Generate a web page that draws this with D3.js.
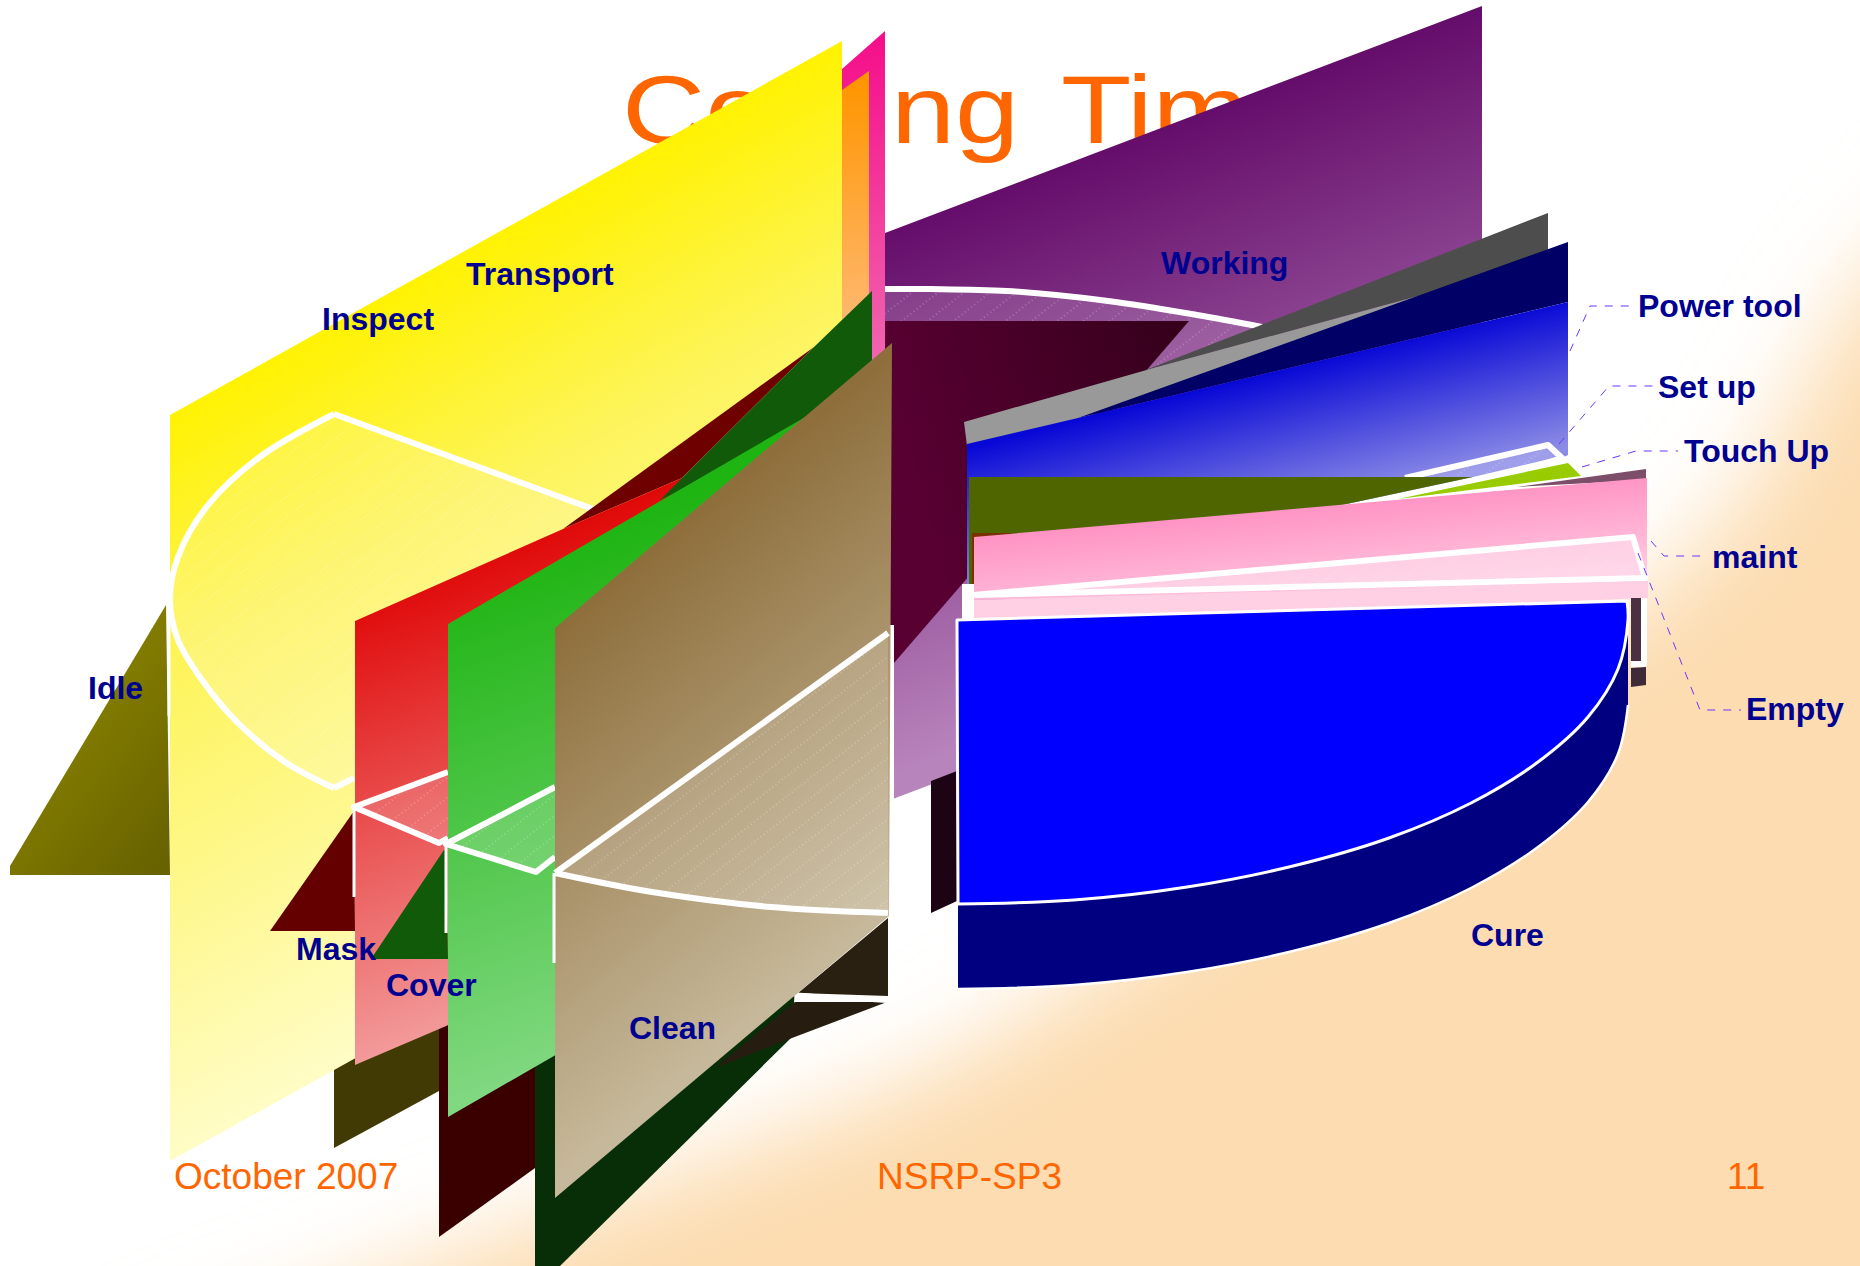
<!DOCTYPE html>
<html>
<head>
<meta charset="utf-8">
<title>Coating Time</title>
<script src="https://cdn.jsdelivr.net/npm/d3@7"></script>
<style>
html, body { margin: 0; padding: 0; background: #fff; }
svg { display: block; }
text { font-family: "Liberation Sans", Arial, sans-serif; }
</style>
</head>
<body>
<svg id="chart"></svg>
<script>
var sliceNames = ["Working", "Transport", "Inspect", "Idle", "Mask", "Cover", "Clean", "Cure", "Empty", "maint", "Touch Up", "Set up", "Power tool"];
var labelX = [1161, 466, 322, 88, 296, 386, 629, 1471, 1746, 1712, 1684, 1658, 1638];
var labelY = [274, 285, 330, 699, 960, 996, 1039, 946, 720, 568, 462, 398, 317];

var footerTexts = ["October 2007", "NSRP-SP3", "11"];
var footerX = [174, 877, 1727];

var peachEdge = [[2100, 120], [1900, 250], [1840, 323], [1720, 525], [1400, 760], [1070, 985], [930, 1070], [420, 1266], [100, 1400], [-200, 1600], [2100, 1600]];

var transportBack = [[885, 31], [842, 69], [842, 400], [885, 400]];
var transportFront = [[869, 71], [842, 90], [842, 340], [869, 340]];
var workingWall = [[885, 233], [1482, 6], [1482, 575], [885, 802]];
var workingTop = [[885, 289], [930, 289], [1007, 291], [1108, 301], [1197, 315], [1262, 326], [1146, 400], [885, 400]];
var workingRim = [[885, 289], [930, 289], [1007, 291], [1108, 301], [1197, 315], [1262, 327]];
var workingInner = [[885, 321], [1189, 321], [894, 663], [885, 672]];
var workingBase = [[931, 781], [957, 771], [957, 901], [931, 913]];

var cleanBase = [[535, 1040], [800, 900], [792, 1037], [560, 1266], [535, 1266]];
var coverBase = [[439, 1020], [535, 950], [535, 1168], [439, 1237]];
var inspectBase = [[334, 1060], [439, 1000], [439, 1091], [334, 1148]];
var idleWedge = [[166, 605], [10, 866], [10, 875], [170, 875]];
var inspectWall = [[170, 415], [842, 41], [842, 788], [170, 1161]];
var inspectArc = [[334, 414], [261, 456], [208, 505], [178, 557], [170, 600], [178, 640], [202, 680], [237, 722], [285, 762], [334, 788]];
var inspectNotch = [[354, 778]];
var inspectTopEdge = [[334, 414], [593, 509]];
var inspectClose = [[600, 640], [600, 511]];
var inspectEdge = [[169, 597], [169, 716]];

var maskUpper = [[563, 529], [814, 347], [682, 478]];
var maskWedge = [[354, 811], [270, 931], [355, 931]];
var maskWall = [[355, 621], [563, 529], [682, 478], [682, 925], [355, 1065]];
var maskTop = [[354, 807], [448, 772], [448, 838], [439, 843]];
var maskEdge = [[354, 807], [354, 897]];

var coverUpper = [[872, 291], [814, 347], [682, 478], [660, 500], [807, 430], [872, 400]];
var coverWedge = [[446, 847], [371, 959], [448, 959]];
var coverWall = [[448, 624], [807, 416], [807, 910], [448, 1117]];
var coverTop = [[446, 844], [555, 787], [555, 857], [536, 872]];
var coverEdge = [[446, 844], [446, 933]];

var cleanLower = [[888, 918], [798, 993], [888, 996]];
var cleanFoot = [[715, 1068], [795, 1002], [887, 1002], [792, 1038]];
var cleanFootRim = [[792, 994], [840, 998], [887, 1001]];
var cleanWall = [[555, 628], [892, 343], [889, 916], [555, 1198]];
var cleanTop = [[888, 633], [555, 873]];
var cleanCurve = [[555, 873], [652, 892], [771, 907], [888, 913]];
var cleanEdge = [[554, 873], [554, 963]];
var cleanGap = [[891, 625], [891, 800]];

var powerDark = [[1143, 371], [1548, 213], [1548, 300], [1422, 295]];
var powerGrey = [[964, 422], [1143, 371], [1422, 295], [1078, 420], [967, 446]];
var powerNavy = [[1078, 418], [1568, 242], [1568, 302]];
var powerWall = [[967, 444], [1078, 418], [1568, 302], [1568, 455], [1400, 540], [967, 600]];
var powerTop = [[1405, 478], [1548, 445], [1562, 458], [1400, 510]];
var touchBand = [[1562, 456], [1473, 477], [1342, 505], [1398, 503], [1568, 465]];
var touchTop = [[1568, 463], [1581, 476], [1398, 499]];
var oliveWall = [[969, 477], [1473, 477], [1342, 505], [969, 590]];
var brownStrip = [[972, 533], [1013, 533], [975, 560], [975, 590], [972, 590]];
var mauveCorner = [[1646, 469], [1517, 487], [1646, 480]];
var maintWall = [[974, 537], [1647, 478], [1647, 590], [974, 600]];
var maintTop = [[974, 595], [1633, 537], [1645, 578]];
var emptyWall = [[974, 600], [1648, 581], [1648, 598], [974, 625]];
var emptySide = [[962, 584], [974, 584], [974, 622], [962, 622]];
var stripUpper = [[1631, 598], [1641, 598], [1641, 662], [1631, 662]];
var stripRim = [[1644, 598], [1644, 664], [1631, 664]];
var stripLower = [[1631, 668], [1646, 667], [1646, 685], [1631, 687]];

var cureRim = [[1627, 601], [1628, 620], [1618, 669], [1588, 717], [1538, 762], [1471, 803], [1389, 838], [1293, 866], [1187, 887], [1074, 900], [958, 904]];
var cureCorner = [[957, 620]];
var cureDepth = 85;

var leaderPower = [[1570, 351], [1590, 306], [1633, 306]];
var leaderSetUp = [[1559, 444], [1609, 386], [1654, 386]];
var leaderTouch = [[1582, 467], [1636, 451], [1678, 451]];
var leaderMaint = [[1651, 541], [1664, 556], [1707, 556]];
var leaderEmpty = [[1638, 553], [1700, 710], [1741, 710]];

var width = 1860, height = 1266;

var x = d3.scaleLinear().domain([0, 1860]).range([0, width]);
var y = d3.scaleLinear().domain([0, 1266]).range([0, height]);

var svg = d3.select("#chart").attr("width", width).attr("height", height);
var defs = svg.append("defs");

var closedLine = d3.line().x(function(d) { return x(d[0]); }).y(function(d) { return y(d[1]); }).curve(d3.curveLinearClosed);
var openLine = d3.line().x(function(d) { return x(d[0]); }).y(function(d) { return y(d[1]); });
var softLine = d3.line().x(function(d) { return x(d[0]); }).y(function(d) { return y(d[1]); }).curve(d3.curveCatmullRomClosed);
var arcLine = d3.line().x(function(d) { return x(d[0]); }).y(function(d) { return y(d[1]); }).curve(d3.curveCatmullRom);

function addGradient(id, x1, y1, x2, y2, stops) {
	var g = defs.append("linearGradient").attr("id", id).attr("gradientUnits", "userSpaceOnUse")
		.attr("x1", x(x1)).attr("y1", y(y1)).attr("x2", x(x2)).attr("y2", y(y2));
	stops.forEach(function(s) {
		g.append("stop").attr("offset", s[0]).attr("stop-color", s[1]);
	});
}

function poly(pts, fill) {
	return svg.append("path").attr("d", closedLine(pts)).attr("fill", fill);
}

// arc first, then straight on through the remaining corners
function arcPath(arc, rest) {
	return arcLine(arc) + rest.map(function(d) { return "L" + x(d[0]) + "," + y(d[1]); }).join("") + "Z";
}

function rim(pts, w) {
	return svg.append("path").attr("d", openLine(pts)).attr("fill", "none")
		.attr("stroke", "#fff").attr("stroke-width", w).attr("stroke-linejoin", "round");
}

function arcRim(pts, w) {
	return svg.append("path").attr("d", arcLine(pts)).attr("fill", "none")
		.attr("stroke", "#fff").attr("stroke-width", w).attr("stroke-linejoin", "round");
}

// top faces: a paler wash with faint dotted hatching
function topFace(d) {
	svg.append("path").attr("d", d).attr("fill", "rgba(255,255,255,0.16)");
	svg.append("path").attr("d", d).attr("fill", "url(#hatch)");
}

// background
defs.append("filter").attr("id", "fade").attr("filterUnits", "userSpaceOnUse")
	.attr("x", -400).attr("y", -200).attr("width", 2800).attr("height", 2000)
	.append("feGaussianBlur").attr("stdDeviation", 48);
svg.append("rect").attr("width", width).attr("height", height).attr("fill", "#fff");
svg.append("path").attr("d", softLine(peachEdge)).attr("fill", "#fcdcb0").attr("filter", "url(#fade)");

var hatch = defs.append("pattern").attr("id", "hatch").attr("patternUnits", "userSpaceOnUse")
	.attr("width", 16).attr("height", 16).attr("patternTransform", "rotate(-38)");
hatch.append("line").attr("x1", 0).attr("x2", 16).attr("y1", 8).attr("y2", 8)
	.attr("stroke", "#fff").attr("stroke-opacity", 0.45).attr("stroke-width", 1).attr("stroke-dasharray", "1 3");

// title sits behind everything
svg.append("text").attr("transform", "translate(" + x(622) + "," + y(143) + ") scale(1.2,1)")
	.attr("font-size", 96).attr("font-family", "Roboto").attr("font-weight", 300).attr("word-spacing", 10)
	.attr("fill", "#ff6600").text("Coating Time");

addGradient("gTransportBack", 860, 40, 900, 400, [[0, "#f50f8a"], [1, "#f070b4"]]);
addGradient("gTransportFront", 850, 80, 860, 340, [[0, "#ff9500"], [1, "#ffbb78"]]);
addGradient("gWorking", 1000, 130, 1200, 660, [[0, "#5c0062"], [1, "#b884bc"]]);
addGradient("gWorkingInner", 890, 420, 1180, 340, [[0, "#580032"], [1, "#36001c"]]);
addGradient("gIdle", 60, 760, 170, 850, [[0, "#807a00"], [1, "#686200"]]);
addGradient("gInspect", 500, 226, 816, 796, [[0, "#fff200"], [0.35, "#fdf45c"], [1, "#fffcc4"]]);
addGradient("gMask", 460, 560, 620, 1000, [[0, "#e00808"], [1, "#f4a4a4"]]);
addGradient("gCover", 560, 540, 720, 1010, [[0, "#1eb412"], [1, "#80d880"]]);
addGradient("gClean", 690, 520, 960, 850, [[0, "#8e6f3c"], [1, "#c6b89a"]]);
addGradient("gPower", 1300, 365, 1335, 505, [[0, "#0808d6"], [1, "#8c8ce6"]]);
addGradient("gMaint", 1300, 508, 1309, 600, [[0, "#ff94c4"], [1, "#ffc8e0"]]);

poly(transportBack, "url(#gTransportBack)");
poly(transportFront, "url(#gTransportFront)");

poly(workingWall, "url(#gWorking)");
topFace(closedLine(workingTop));
arcRim(workingRim, 6);
poly(workingInner, "url(#gWorkingInner)");
poly(workingBase, "#1c0415");

poly(cleanBase, "#082e08");
poly(coverBase, "#3a0000");
poly(inspectBase, "#423a05");
poly(idleWedge, "url(#gIdle)");

poly(inspectWall, "url(#gInspect)");
topFace(arcPath(inspectArc, inspectNotch.concat(inspectClose)));
arcRim(inspectArc, 6);
rim([inspectArc[inspectArc.length - 1]].concat(inspectNotch), 6);
rim(inspectTopEdge, 6);
rim(inspectEdge, 3);

poly(maskWedge, "#650000");
poly(maskUpper, "#6f0000");
poly(maskWall, "url(#gMask)");
topFace(closedLine(maskTop));
rim([maskTop[1], maskTop[0], maskTop[3], maskTop[2]], 6);
rim(maskEdge, 3);

poly(coverUpper, "#105a0a");
poly(coverWedge, "#105a0a");
poly(coverWall, "url(#gCover)");
topFace(closedLine(coverTop));
rim([coverTop[1], coverTop[0], coverTop[3], coverTop[2]], 6);
rim(coverEdge, 3);

poly(cleanLower, "#2a2012");
poly(cleanFoot, "#261c10");
arcRim(cleanFootRim, 4);
rim(cleanGap, 6);
poly(cleanWall, "url(#gClean)");
topFace(arcPath(cleanCurve, cleanTop));
rim(cleanTop, 6);
arcRim(cleanCurve, 6);
rim(cleanEdge, 3);

poly(powerDark, "#4d4d4d");
poly(powerGrey, "#999");
poly(powerNavy, "#000066");
poly(powerWall, "url(#gPower)");
topFace(closedLine(powerTop));
rim(powerTop, 6);
poly(touchBand, "#fff");
poly(touchTop, "#99cc00").attr("stroke", "#fff").attr("stroke-width", 9).attr("paint-order", "stroke").attr("stroke-linejoin", "round");
poly(oliveWall, "#4f6600");
poly(brownStrip, "#7a3000");
poly(mauveCorner, "#7d4e6a");
poly(maintWall, "url(#gMaint)");
topFace(closedLine(maintTop));
poly(maintTop, "rgba(255,220,235,0.5)");
rim(maintTop.concat([maintTop[0]]), 6);
poly(emptySide, "#fff");
poly(emptyWall, "#ffd0e4");
poly(stripUpper, "#4a3040");
rim(stripRim, 6);
poly(stripLower, "#3f2b38");

// cure slice: rim and side come from the same outline
var cureLower = cureRim.slice(1).map(function(d) { return [d[0], d[1] + cureDepth]; });
svg.append("path").attr("fill", "#000080")
	.attr("d", arcLine(cureRim.slice(1)) + arcLine(cureLower.slice().reverse()).replace(/^M/, "L") + "Z");
arcRim(cureLower, 2.5);
svg.append("path").attr("d", arcPath(cureRim, cureCorner)).attr("fill", "#0000ff")
	.attr("stroke", "#fff").attr("stroke-width", 3).attr("stroke-linejoin", "round");

[leaderPower, leaderSetUp, leaderTouch, leaderMaint, leaderEmpty].forEach(function(l) {
	svg.append("path").attr("d", openLine(l)).attr("fill", "none").attr("stroke", "#6a35ff")
		.attr("stroke-width", 1).attr("stroke-dasharray", "8 8");
});

svg.selectAll(".sliceLabel").data(sliceNames).enter().append("text")
	.attr("class", "sliceLabel")
	.attr("x", function(d, i) { return x(labelX[i]); })
	.attr("y", function(d, i) { return y(labelY[i]); })
	.attr("font-size", 32).attr("font-weight", "bold").attr("fill", "#000090")
	.text(function(d) { return d; });

svg.selectAll(".footer").data(footerTexts).enter().append("text")
	.attr("class", "footer")
	.attr("x", function(d, i) { return x(footerX[i]); })
	.attr("y", y(1189))
	.attr("font-size", 37).attr("fill", "#ff6600")
	.text(function(d) { return d; });
</script>
</body>
</html>
